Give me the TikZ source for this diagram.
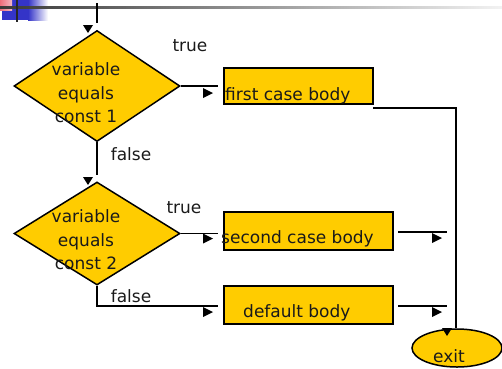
\documentclass[tikz,border=0pt]{standalone}
\usepackage{fontspec}
\setmainfont{DejaVu Sans}
\usetikzlibrary{shapes.geometric}
\definecolor{gold}{HTML}{FFCC00}
\definecolor{txt}{HTML}{1A1A1A}
\definecolor{barblue}{HTML}{3434C8}
\definecolor{barpink}{HTML}{E98A9A}
\tikzset{
  pics/tipR/.style={code={\fill[black] (-5,-5) -- (5,0) -- (-5,5) -- cycle;}},
  pics/tipD/.style={code={\fill[black] (-5,-4) -- (5,-4) -- (0,4) -- cycle;}}
}
\begin{document}
\begin{tikzpicture}[x=1pt,y=-1pt,
  every node/.style={font=\fontsize{17}{23.5}\selectfont, text=txt},
  decision/.style={draw=black, line width=1.5pt, fill=gold, shape=diamond, inner sep=0pt, minimum width=166pt},
  bodybox/.style={draw=black, line width=1.5pt, fill=gold, rectangle, inner sep=0pt},
  endshape/.style={draw=black, line width=1.5pt, fill=gold, ellipse, inner sep=0pt, minimum width=90pt, minimum height=38pt},
  conn/.style={line width=1.6pt, draw=black},
  lbl/.style={inner sep=0pt}
]
\useasboundingbox (0,0) rectangle (502,368);
% top decoration
\fill[barblue] (2,0) rectangle (28,20);
\shade[left color=barblue, right color=white] (28,0) rectangle (48,20);
\shade[left color=barpink!80!red, right color=barpink!60] (0,0) rectangle (12,10);
\shade[left color=black!78, middle color=black!60, right color=black!5] (0,6) rectangle (502,8.5);
\draw[line width=1.8pt, black!85] (17,0) -- (17,22);

% shapes
\node[decision, minimum height=111pt] (d1) at (97,86) {};
\node[decision, minimum height=103pt] (d2) at (97,233.5) {};
\node[bodybox, minimum width=149pt, minimum height=36pt] (b1) at (298.5,86) {};
\node[bodybox, minimum width=169pt, minimum height=38pt] (b2) at (308.5,231) {};
\node[bodybox, minimum width=169pt, minimum height=38pt] (b3) at (308.5,305) {};
\node[endshape] (ex) at (457,348) {};

% texts
\node[lbl, align=center] (t1) at (86,93) {variable\\equals\\const 1};
\node[lbl, align=center] (t2) at (86,240) {variable\\equals\\const 2};
\node[lbl, anchor=base west] (tb1) at (225,100) {first case body};
\node[lbl, anchor=base west] (tb2) at (221,243) {second case body};
\node[lbl, anchor=base west] (tb3) at (243,317) {default body};
\node[lbl, anchor=base] (tex) at (449,362) {exit};
\node[lbl] (l1) at (190,46) {true};
\node[lbl] (l2) at (131,154) {false};
\node[lbl] (l3) at (184,208) {true};
\node[lbl] (l4) at (131,296) {false};

% connectors
\coordinate (top) at (97,3);
\coordinate (topend) at (97,23);
\coordinate (d1r) at (218,86);
\coordinate (d1b) at (97,175);
\coordinate (d2r) at (218,232);
\coordinate (d2f) at (218,306);
\coordinate (b1out) at (373,108);
\coordinate (exin) at (456,328);
\coordinate (b2s) at (398,232);
\coordinate (b2e) at (447,232);
\coordinate (b3s) at (398,306);
\coordinate (b3e) at (447,306);

\draw[conn] (top) -- (topend);
\draw[conn] (d1.east) -- (d1r);
\draw[conn] (d1.south) -- (d1b);
\draw[conn] (d2.east) -- (d2.east -| d2r);
\draw[conn] (d2.south) |- (d2f);
\draw[conn] (b1out) -| (exin);
\draw[conn] (b2s) -- (b2e);
\draw[conn] (b3s) -- (b3e);

% arrowheads
\pic at (88,29) {tipD};
\pic at (88,181) {tipD};
\pic at (208,93) {tipR};
\pic at (208,238.5) {tipR};
\pic at (208,312) {tipR};
\pic at (437,238) {tipR};
\pic at (437,312) {tipR};
\pic at (447,332) {tipD};
\end{tikzpicture}
\end{document}
